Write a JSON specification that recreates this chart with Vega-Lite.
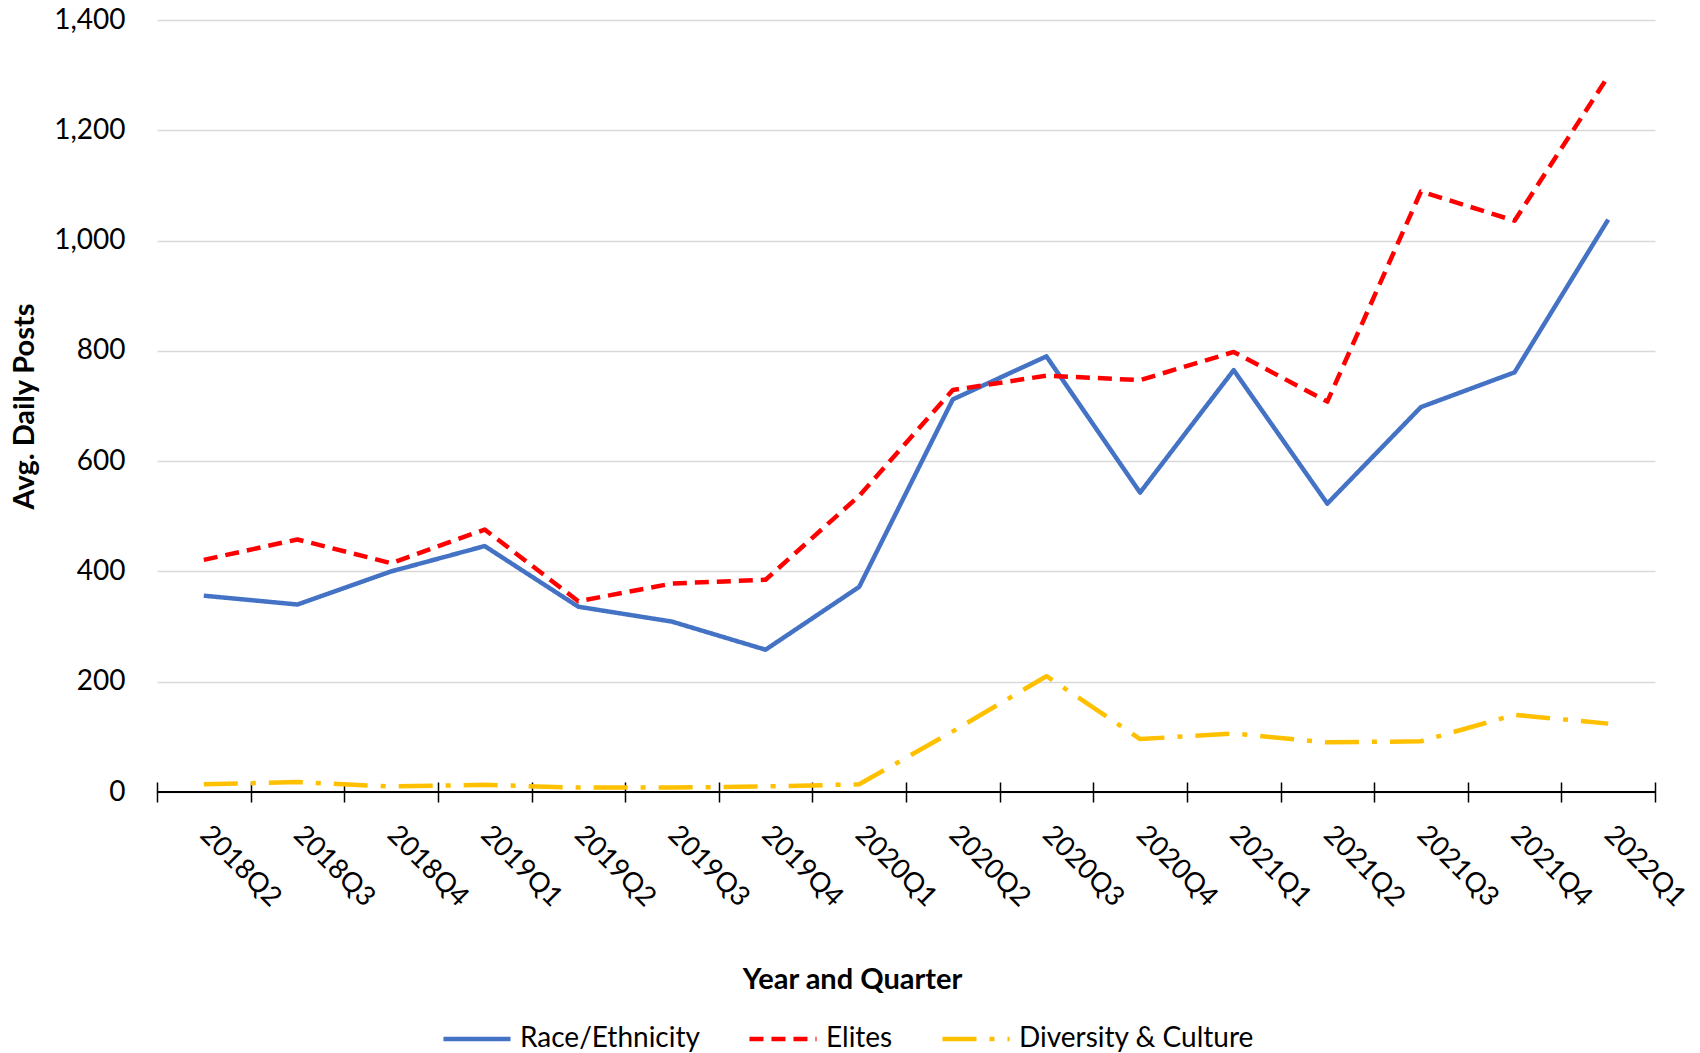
{
  "$schema": "https://vega.github.io/schema/vega-lite/v6.json",
  "width": 1498,
  "height": 772,
  "autosize": {"type": "none"},
  "padding": {"left": 157, "top": 20, "right": 45, "bottom": 261},
  "background": "white",
  "config": {
    "font": "Lato",
    "view": {"stroke": null},
    "axis": {"labelFont": "Lato", "titleFont": "Lato", "labelColor": "black", "titleColor": "black"},
    "legend": {"labelFont": "Lato", "padding": 0}
  },
  "data": {
    "values": [
      {"q": "2018Q2", "s": "Race/Ethnicity", "v": 356},
      {"q": "2018Q3", "s": "Race/Ethnicity", "v": 340},
      {"q": "2018Q4", "s": "Race/Ethnicity", "v": 400},
      {"q": "2019Q1", "s": "Race/Ethnicity", "v": 446},
      {"q": "2019Q2", "s": "Race/Ethnicity", "v": 336},
      {"q": "2019Q3", "s": "Race/Ethnicity", "v": 309},
      {"q": "2019Q4", "s": "Race/Ethnicity", "v": 258},
      {"q": "2020Q1", "s": "Race/Ethnicity", "v": 372},
      {"q": "2020Q2", "s": "Race/Ethnicity", "v": 712},
      {"q": "2020Q3", "s": "Race/Ethnicity", "v": 790},
      {"q": "2020Q4", "s": "Race/Ethnicity", "v": 543},
      {"q": "2021Q1", "s": "Race/Ethnicity", "v": 765},
      {"q": "2021Q2", "s": "Race/Ethnicity", "v": 523},
      {"q": "2021Q3", "s": "Race/Ethnicity", "v": 698},
      {"q": "2021Q4", "s": "Race/Ethnicity", "v": 761},
      {"q": "2022Q1", "s": "Race/Ethnicity", "v": 1038},
      {"q": "2018Q2", "s": "Elites", "v": 421},
      {"q": "2018Q3", "s": "Elites", "v": 458},
      {"q": "2018Q4", "s": "Elites", "v": 415},
      {"q": "2019Q1", "s": "Elites", "v": 476},
      {"q": "2019Q2", "s": "Elites", "v": 346},
      {"q": "2019Q3", "s": "Elites", "v": 378},
      {"q": "2019Q4", "s": "Elites", "v": 385},
      {"q": "2020Q1", "s": "Elites", "v": 537},
      {"q": "2020Q2", "s": "Elites", "v": 729},
      {"q": "2020Q3", "s": "Elites", "v": 755},
      {"q": "2020Q4", "s": "Elites", "v": 747},
      {"q": "2021Q1", "s": "Elites", "v": 798},
      {"q": "2021Q2", "s": "Elites", "v": 708},
      {"q": "2021Q3", "s": "Elites", "v": 1089},
      {"q": "2021Q4", "s": "Elites", "v": 1036},
      {"q": "2022Q1", "s": "Elites", "v": 1298},
      {"q": "2018Q2", "s": "Diversity & Culture", "v": 14},
      {"q": "2018Q3", "s": "Diversity & Culture", "v": 18},
      {"q": "2018Q4", "s": "Diversity & Culture", "v": 10},
      {"q": "2019Q1", "s": "Diversity & Culture", "v": 13},
      {"q": "2019Q2", "s": "Diversity & Culture", "v": 8},
      {"q": "2019Q3", "s": "Diversity & Culture", "v": 8},
      {"q": "2019Q4", "s": "Diversity & Culture", "v": 10},
      {"q": "2020Q1", "s": "Diversity & Culture", "v": 14},
      {"q": "2020Q2", "s": "Diversity & Culture", "v": 110},
      {"q": "2020Q3", "s": "Diversity & Culture", "v": 210},
      {"q": "2020Q4", "s": "Diversity & Culture", "v": 96},
      {"q": "2021Q1", "s": "Diversity & Culture", "v": 106},
      {"q": "2021Q2", "s": "Diversity & Culture", "v": 90},
      {"q": "2021Q3", "s": "Diversity & Culture", "v": 92},
      {"q": "2021Q4", "s": "Diversity & Culture", "v": 140},
      {"q": "2022Q1", "s": "Diversity & Culture", "v": 124}
    ]
  },
  "layer": [
    {
      "mark": {"type": "rule", "color": "black", "strokeWidth": 2},
      "encoding": {"y": {"datum": 0, "type": "quantitative", "scale": {"domain": [0, 1400]}}}
    },
    {
      "mark": {"type": "line", "strokeWidth": 4.5, "strokeJoin": "round"},
      "encoding": {
        "x": {
          "field": "q", "type": "ordinal", "sort": null,
          "scale": {"type": "band", "paddingInner": 0, "paddingOuter": 0},
          "axis": {
            "title": "Year and Quarter",
            "titleFontSize": 29, "titleFontWeight": "bold",
            "titleX": 695, "titleY": 197, "titleBaseline": "middle", "titleAlign": "center",
            "labelFontSize": 27.5, "labelAngle": 45, "labelAlign": "left", "labelBaseline": "middle",
            "labelPadding": 28,
            "domain": false,
            "ticks": true, "tickBand": "extent", "tickSize": 20, "tickColor": "black", "tickWidth": 1.5,
            "offset": -10,
            "grid": false
          }
        },
        "y": {
          "field": "v", "type": "quantitative",
          "scale": {"domain": [0, 1400], "nice": false},
          "axis": {
            "title": "Avg. Daily Posts",
            "titleFontSize": 29, "titleFontWeight": "bold",
            "titleX": -133, "titleY": 386, "titleAngle": -90, "titleAlign": "center", "titleBaseline": "middle",
            "labelFontSize": 28, "labelPadding": 32, "format": ",d",
            "values": [0, 200, 400, 600, 800, 1000, 1200, 1400],
            "domain": false, "ticks": false,
            "grid": true, "gridColor": "#D9D9D9", "gridWidth": 1.5
          }
        },
        "color": {
          "field": "s", "type": "nominal",
          "scale": {"domain": ["Race/Ethnicity", "Elites", "Diversity & Culture"], "range": ["#4472C4", "#FF0000", "#FFC000"]},
          "legend": {
            "title": null, "orient": "none", "direction": "horizontal", "legendX": 284, "legendY": 983,
            "labelFontSize": 28, "symbolType": "stroke", "symbolSize": 4500, "symbolStrokeWidth": 4.5,
            "columnPadding": 40, "labelOffset": 7, "labelLimit": 400
          }
        },
        "strokeDash": {
          "field": "s", "type": "nominal",
          "scale": {"domain": ["Race/Ethnicity", "Elites", "Diversity & Culture"], "range": [[1, 0], [14, 8], [34, 13, 5, 13]]},
          "legend": null
        }
      }
    }
  ]
}
